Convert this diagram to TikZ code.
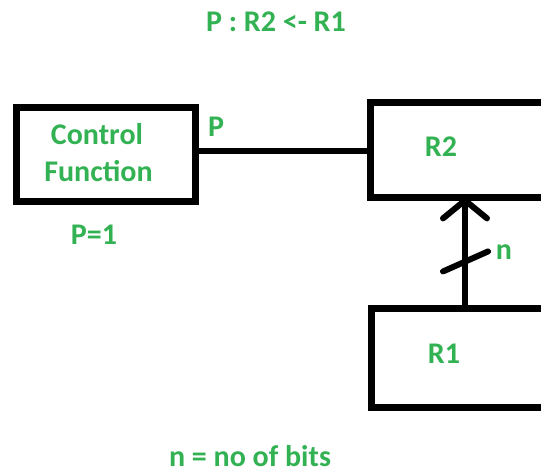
\documentclass[tikz,border=0pt]{standalone}
\usepackage{fontspec}
\setmainfont{Carlito}
\usetikzlibrary{arrows.meta,calc}
\definecolor{txtgreen}{RGB}{51,178,84}
\tikzset{
  box/.style={draw=black, line width=7pt, rectangle, inner sep=0pt, outer sep=0pt},
  lbl/.style={text=txtgreen, font=\fontsize{30}{34}\selectfont\bfseries, inner sep=0pt, anchor=base},
  wire/.style={draw=black, line width=6pt},
}
\begin{document}
\begin{tikzpicture}[x=1pt,y=-1pt]
\clip (0,0) rectangle (541,470);
\fill[white] (0,0) rectangle (541,470);
% boxes
\node[box, minimum width=179pt, minimum height=94pt] (cf) at (106,154.5) {};
\node[box, minimum width=200pt, minimum height=95pt] (r2) at (470.5,150) {};
\node[box, minimum width=200pt, minimum height=99pt] (r1) at (471.5,358) {};
% texts
\node[lbl] (title) at (276,32) {P : R2 <- R1};
\node[lbl] (t1) at (97,145) {Control};
\node[lbl] (t2) at (98.5,182) {Function};
\node[lbl] (tp) at (216,137) {P};
\node[lbl] (tp1) at (94,245) {P=1};
\node[lbl] (tr2) at (441,157) {R2};
\node[lbl] (tr1) at (444,363) {R1};
\node[lbl] (tn) at (504,260) {n};
\node[lbl] (bits) at (250,466.5) {n = no of bits};
% connectors
\coordinate (ax) at (465,0);
\draw[wire] (cf.east |- 0,151) -- (r2.west |- 0,151);
\draw[wire, -{Straight Barb[length=18pt,width=44pt,line cap=round]}]
  (r1.north -| ax) -- coordinate[pos=0.42] (m) ($(r2.south -| ax)+(0,-1)$);
\draw[wire, line cap=round] ($(m)+(-22,10)$) -- ($(m)+(23,-10)$);
\end{tikzpicture}
\end{document}
